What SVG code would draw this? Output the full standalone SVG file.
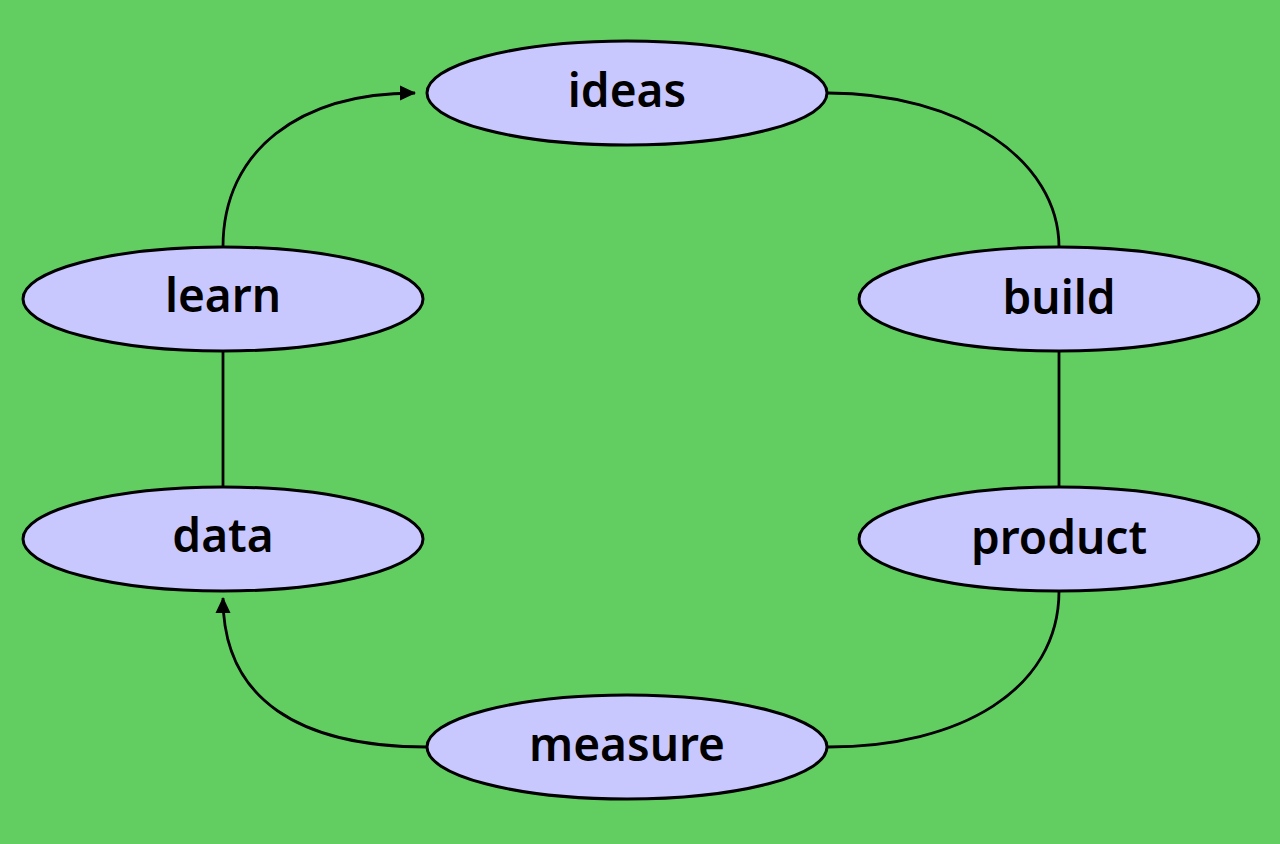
<svg xmlns="http://www.w3.org/2000/svg" width="1280" height="844" viewBox="0 0 1280 844">
<style>
.n ellipse{fill:#c8c8ff;stroke:#000;stroke-width:3}
.n text{font-family:"Noto Sans","DejaVu Sans",sans-serif;font-size:46px;font-weight:600;fill:#000;text-anchor:middle;dominant-baseline:central}
.c path{fill:none;stroke:#000;stroke-width:2.8}
</style>
<defs>
<marker id="ah" markerWidth="16" markerHeight="16" refX="15" refY="7.5" orient="auto" markerUnits="userSpaceOnUse" viewBox="0 0 16 15">
<path d="M0,0 L16,7.5 L0,15 z" fill="#000"/>
</marker>
</defs>
<rect width="1280" height="844" fill="#62ce62"/>
<g class="c" id="connectors">
<path d="M828,93 C960,93 1059,160 1059,247"/>
<path d="M223,247 C223,150 300,93 415,93" marker-end="url(#ah)"/>
<path d="M223,351 L223,487"/>
<path d="M1059,351 L1059,487"/>
<path d="M1059,591 C1059,690 960,747 828,747"/>
<path d="M427,747 C300,747 223,700 223,598" marker-end="url(#ah)"/>
</g>
<g class="n" id="ideas"><ellipse cx="627" cy="93" rx="200" ry="52"/><text x="627" y="89">ideas</text></g>
<g class="n" id="learn"><ellipse cx="223" cy="299" rx="200" ry="52"/><text x="223" y="294">learn</text></g>
<g class="n" id="build"><ellipse cx="1059" cy="299" rx="200" ry="52"/><text x="1059" y="296">build</text></g>
<g class="n" id="data"><ellipse cx="223" cy="539" rx="200" ry="52"/><text x="223" y="534">data</text></g>
<g class="n" id="product"><ellipse cx="1059" cy="539" rx="200" ry="52"/><text x="1059" y="536">product</text></g>
<g class="n" id="measure"><ellipse cx="627" cy="747" rx="200" ry="52"/><text x="627" y="743">measure</text></g>
</svg>
